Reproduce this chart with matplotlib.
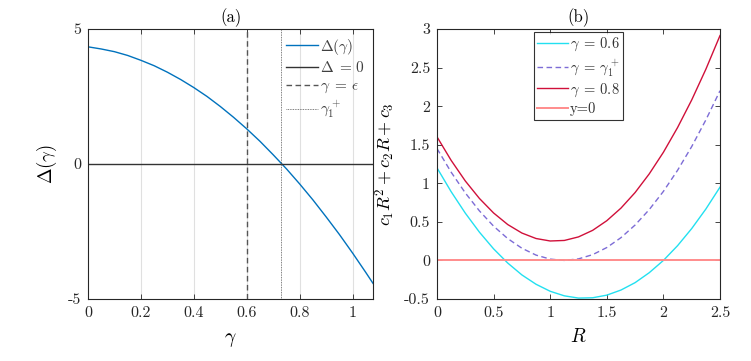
import numpy as np
import matplotlib
matplotlib.use("Agg")
import matplotlib.pyplot as plt

plt.rcParams['font.family'] = 'serif'
plt.rcParams['font.serif'] = ['cmr10']
plt.rcParams['mathtext.fontset'] = 'cm'
plt.rcParams['axes.formatter.use_mathtext'] = True
plt.rcParams['axes.unicode_minus'] = False

# (a) Delta(gamma)
gam = [0, 0.05, 0.1, 0.15, 0.2, 0.25, 0.3, 0.35, 0.4, 0.45, 0.5, 0.55,
       0.6, 0.65, 0.7, 0.75, 0.8, 0.85, 0.9, 0.95, 1.0, 1.05, 1.077]
delta = [4.34, 4.26, 4.16, 4.02, 3.84, 3.64, 3.40, 3.13, 2.83, 2.50, 2.13, 1.73,
         1.30, 0.84, 0.34, -0.18, -0.74, -1.33, -1.96, -2.61, -3.30, -4.02, -4.42]
eps = 0.6
gam1p = 0.73

# (b) c1 R^2 + c2 R + c3 for three gammas
R = [0, 0.125, 0.25, 0.375, 0.5, 0.625, 0.75, 0.875, 1.0, 1.125, 1.25,
     1.375, 1.5, 1.625, 1.75, 1.875, 2.0, 2.125, 2.25, 2.375, 2.5]
poly_06 = [1.20, 0.891, 0.613, 0.366, 0.15, -0.034, -0.188, -0.309, -0.40, -0.459, -0.488,
           -0.484, -0.45, -0.384, -0.288, -0.159, 0.0, 0.191, 0.413, 0.666, 0.95]
poly_g1 = [1.45, 1.144, 0.875, 0.642, 0.444, 0.283, 0.158, 0.069, 0.017, 0.0, 0.020,
           0.075, 0.167, 0.295, 0.459, 0.659, 0.895, 1.168, 1.476, 1.821, 2.20]
poly_08 = [1.602, 1.297, 1.030, 0.803, 0.615, 0.465, 0.355, 0.284, 0.252, 0.259, 0.305,
           0.390, 0.515, 0.678, 0.880, 1.122, 1.402, 1.722, 2.080, 2.478, 2.915]

fig = plt.figure(figsize=(7.51, 3.61), dpi=100)
ax1 = fig.add_axes([88/751, 62/361, 285/751, 270/361])
ax2 = fig.add_axes([437/751, 62/361, 283/751, 270/361])

axcol = '#262626'
for ax in (ax1, ax2):
    ax.tick_params(direction='in', top=True, right=True, length=3.5, width=0.6,
                   labelsize=11.5, colors=axcol, pad=5)
    for s in ax.spines.values():
        s.set_linewidth(0.8)
        s.set_color(axcol)

# ---- panel (a)
for g in [0.2, 0.4, 0.6, 0.8, 1.0]:
    ax1.axvline(g, color='#e0e0e0', lw=0.8, zorder=0)
ax1.plot(gam, delta, color='#0072BD', lw=1.0, label=r'$\Delta(\gamma)$')
ax1.axhline(0, color='#333333', lw=1.0, label=r'$\Delta\;=\,0$')
ax1.axvline(eps, color='#555555', lw=1.0, ls=(0, (4, 2.5)), label=r'$\gamma\;=\,\epsilon$')
ax1.axvline(gam1p, color='#555555', lw=0.6, ls=(0, (1, 1)), label=r'$\gamma_1^+$')
ax1.set_xlim(0, 1.077)
ax1.set_ylim(-5, 5)
ax1.set_xticks([0, 0.2, 0.4, 0.6, 0.8, 1])
ax1.set_xticklabels(['0', '0.2', '0.4', '0.6', '0.8', '1'])
ax1.set_yticks([-5, 0, 5])
ax1.set_yticklabels(['-5', '0', '5'])
ax1.set_xlabel(r'$\gamma$', fontsize=14, labelpad=8)
ax1.set_ylabel(r'$\Delta(\gamma)$', fontsize=13.5, labelpad=6)
ax1.set_title('(a)', fontsize=12, pad=5)
leg1 = ax1.legend(loc='upper right', frameon=False, fontsize=11, handlelength=2.1,
                  handletextpad=0.15, labelspacing=0.25, borderaxespad=0.1,
                  bbox_to_anchor=(1.0, 1.0))
for t in leg1.get_texts():
    t.set_color('#404040')

# ---- panel (b)
ax2.plot(R, poly_06, color='#22E0F0', lw=1.0, label=r'$\gamma\;=\,0.6$')
ax2.plot(R, poly_g1, color='#7D6CD6', lw=1.0, ls=(0, (4, 2.5)), label=r'$\gamma\;=\,\gamma_1^+$')
ax2.plot(R, poly_08, color='#D0103A', lw=1.0, label=r'$\gamma\;=\,0.8$')
ax2.axhline(0, color='#FF8C8C', lw=1.4, label='y=0')
ax2.set_xlim(0, 2.5)
ax2.set_ylim(-0.5, 3)
ax2.set_xticks([0, 0.5, 1, 1.5, 2, 2.5])
ax2.set_xticklabels(['0', '0.5', '1', '1.5', '2', '2.5'])
ax2.set_yticks([-0.5, 0, 0.5, 1, 1.5, 2, 2.5, 3])
ax2.set_yticklabels(['-0.5', '0', '0.5', '1', '1.5', '2', '2.5', '3'])
ax2.set_xlabel(r'$R$', fontsize=14, labelpad=6)
ax2.set_ylabel(r'$c_1R^2+c_2R+c_3$', fontsize=13, labelpad=5)
ax2.set_title('(b)', fontsize=12, pad=5)
leg2 = ax2.legend(loc='upper center', frameon=True, fontsize=10.5, handlelength=2.1,
                  handletextpad=0.15, labelspacing=0.25, borderaxespad=0.2,
                  borderpad=0.25, fancybox=False, bbox_to_anchor=(0.5, 1.0))
leg2.get_frame().set_edgecolor('black')
leg2.get_frame().set_linewidth(0.8)
for t in leg2.get_texts():
    t.set_color('#333333')

fig.savefig('out.png', dpi=100)
